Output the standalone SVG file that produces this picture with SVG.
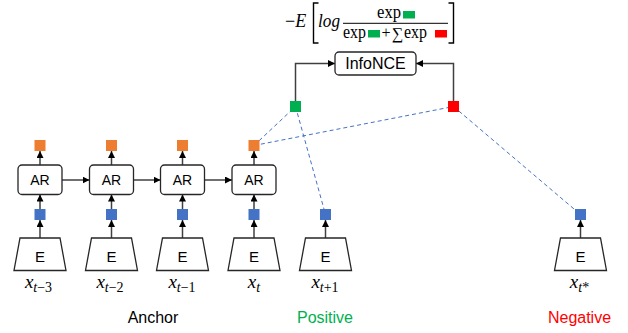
<svg xmlns="http://www.w3.org/2000/svg" width="628" height="333" viewBox="0 0 628 333">
<defs>
<marker id="ah" viewBox="0 0 10 10" refX="10" refY="5" markerWidth="7" markerHeight="7" markerUnits="userSpaceOnUse" orient="auto">
<path d="M0,0 L10,5 L0,10 z" fill="#000"/>
</marker>
<style>
.box{fill:#fff;stroke:#262626;stroke-width:1.3}
.lbl{font-family:"Liberation Sans",Arial,sans-serif;fill:#000;text-anchor:middle}
.ar{font-size:14px}
.e{font-size:15px}
.arrow{stroke:#404040;stroke-width:1.5;fill:none;marker-end:url(#ah)}
.dash{stroke:#4472C4;stroke-width:1;stroke-dasharray:4 3;fill:none}
.blue{fill:#4472C4}
.orange{fill:#ED7D31}
.green{fill:#00B050}
.red{fill:#FF0000}
.math{font-family:"Liberation Serif","DejaVu Serif",serif;fill:#000}
.brk{fill:none;stroke:#000;stroke-width:1.4}
.xl{font-family:"Liberation Serif","DejaVu Serif",serif;font-style:italic;font-size:19px;text-anchor:middle;fill:#000}
.sub{font-size:14px}
.cap{font-family:"Liberation Sans",Arial,sans-serif;font-size:16px;text-anchor:middle}
</style>
</defs>

<!-- formula -->
<g id="formula" class="math">
<text x="285" y="27" font-size="18">−<tspan font-style="italic">E</tspan></text>
<path class="brk" d="M318.5,3 L313.5,3 L313.5,43 L318.5,43"/>
<text x="318" y="27" font-size="18" font-style="italic" textLength="22" lengthAdjust="spacingAndGlyphs">log</text>
<line x1="343" y1="23.3" x2="448" y2="23.3" stroke="#000" stroke-width="1"/>
<text x="377" y="18" font-size="19" textLength="24" lengthAdjust="spacingAndGlyphs">exp</text>
<rect x="403" y="11" width="12" height="7.5" class="green"/>
<text x="343" y="37.5" font-size="19" textLength="23" lengthAdjust="spacingAndGlyphs">exp</text>
<rect x="368" y="30" width="12" height="7.5" class="green"/>
<text x="381.5" y="37.5" font-size="16">+</text>
<text x="392" y="38.5" font-size="16">∑</text>
<text x="404" y="37.5" font-size="19" textLength="23" lengthAdjust="spacingAndGlyphs">exp</text>
<rect x="435" y="30" width="12" height="7.5" class="red"/>
<path class="brk" d="M448.5,3 L453.5,3 L453.5,43 L448.5,43"/>
</g>

<!-- connectors -->
<g id="connectors">
<line class="dash" x1="254" y1="145.5" x2="295.5" y2="106.5"/>
<line class="dash" x1="295.5" y1="106.5" x2="325.5" y2="214.5"/>
<line class="dash" x1="254" y1="145.5" x2="453.5" y2="106.5"/>
<line class="dash" x1="453.5" y1="106.5" x2="580.5" y2="214.5"/>
<polyline class="arrow" points="295.5,101 295.5,63.5 335,63.5"/>
<polyline class="arrow" points="453.5,101 453.5,63.5 416,63.5"/>
<!-- E to blue -->
<line class="arrow" x1="40" y1="238" x2="40" y2="220"/>
<line class="arrow" x1="111.5" y1="238" x2="111.5" y2="220"/>
<line class="arrow" x1="182.5" y1="238" x2="182.5" y2="220"/>
<line class="arrow" x1="254" y1="238" x2="254" y2="220"/>
<line class="arrow" x1="325.5" y1="238" x2="325.5" y2="220"/>
<line class="arrow" x1="580.5" y1="238" x2="580.5" y2="220"/>
<!-- blue to AR -->
<line class="arrow" x1="40" y1="209" x2="40" y2="194.5"/>
<line class="arrow" x1="111.5" y1="209" x2="111.5" y2="194.5"/>
<line class="arrow" x1="182.5" y1="209" x2="182.5" y2="194.5"/>
<line class="arrow" x1="254" y1="209" x2="254" y2="194.5"/>
<!-- AR to orange -->
<line class="arrow" x1="40" y1="165" x2="40" y2="151"/>
<line class="arrow" x1="111.5" y1="165" x2="111.5" y2="151"/>
<line class="arrow" x1="182.5" y1="165" x2="182.5" y2="151"/>
<line class="arrow" x1="254" y1="165" x2="254" y2="151"/>
<!-- AR to AR -->
<line class="arrow" x1="62" y1="180" x2="89.5" y2="180"/>
<line class="arrow" x1="133.5" y1="180" x2="160.5" y2="180"/>
<line class="arrow" x1="204.5" y1="180" x2="232" y2="180"/>
</g>

<!-- InfoNCE -->
<g id="infonce">
<rect class="box" x="335" y="52" width="81" height="23" rx="4"/>
<text class="lbl" x="375.5" y="69" font-size="16">InfoNCE</text>
</g>
<g id="pos-vec"><rect class="green" x="290" y="101" width="11" height="11"/></g>
<g id="neg-vec"><rect class="red" x="448" y="101" width="11" height="11"/></g>

<!-- column 1 -->
<g id="col1">
<rect class="orange" x="34.5" y="140" width="11" height="11"/>
<rect class="box" x="18" y="165" width="44" height="29.5" rx="4"/>
<text class="lbl ar" x="40" y="185">AR</text>
<rect class="blue" x="34.5" y="209" width="11" height="11"/>
<polygon class="box" points="20,238 60,238 66,270.5 14,270.5"/>
<text class="lbl e" x="40" y="261.5">E</text>
<text class="xl" x="38.5" y="288">x<tspan class="sub" dy="4">t<tspan font-style="normal">−3</tspan></tspan></text>
</g>
<!-- column 2 -->
<g id="col2">
<rect class="orange" x="106" y="140" width="11" height="11"/>
<rect class="box" x="89.5" y="165" width="44" height="29.5" rx="4"/>
<text class="lbl ar" x="111.5" y="185">AR</text>
<rect class="blue" x="106" y="209" width="11" height="11"/>
<polygon class="box" points="91.5,238 131.5,238 137.5,270.5 85.5,270.5"/>
<text class="lbl e" x="111.5" y="261.5">E</text>
<text class="xl" x="110" y="288">x<tspan class="sub" dy="4">t<tspan font-style="normal">−2</tspan></tspan></text>
</g>
<!-- column 3 -->
<g id="col3">
<rect class="orange" x="177" y="140" width="11" height="11"/>
<rect class="box" x="160.5" y="165" width="44" height="29.5" rx="4"/>
<text class="lbl ar" x="182.5" y="185">AR</text>
<rect class="blue" x="177" y="209" width="11" height="11"/>
<polygon class="box" points="162.5,238 202.5,238 208.5,270.5 156.5,270.5"/>
<text class="lbl e" x="182.5" y="261.5">E</text>
<text class="xl" x="182" y="288">x<tspan class="sub" dy="4">t<tspan font-style="normal">−1</tspan></tspan></text>
</g>
<!-- column 4 -->
<g id="col4">
<rect class="orange" x="248.5" y="140" width="11" height="11"/>
<rect class="box" x="232" y="165" width="44" height="29.5" rx="4"/>
<text class="lbl ar" x="254" y="185">AR</text>
<rect class="blue" x="248.5" y="209" width="11" height="11"/>
<polygon class="box" points="234,238 274,238 280,270.5 228,270.5"/>
<text class="lbl e" x="254" y="261.5">E</text>
<text class="xl" x="254" y="288">x<tspan class="sub" dy="4">t</tspan></text>
</g>
<!-- column 5 positive -->
<g id="col5">
<rect class="blue" x="320" y="209" width="11" height="11"/>
<polygon class="box" points="305.5,238 345.5,238 351.5,270.5 299.5,270.5"/>
<text class="lbl e" x="325.5" y="261.5">E</text>
<text class="xl" x="325" y="288">x<tspan class="sub" dy="4">t<tspan font-style="normal">+1</tspan></tspan></text>
</g>
<!-- negative column -->
<g id="colneg">
<rect class="blue" x="575" y="209" width="11" height="11"/>
<polygon class="box" points="560.5,238 600.5,238 606.5,270.5 554.5,270.5"/>
<text class="lbl e" x="580.5" y="261.5">E</text>
<text class="xl" x="579.5" y="288">x<tspan class="sub" dy="4">t<tspan font-style="normal">*</tspan></tspan></text>
</g>

<!-- captions -->
<g id="captions">
<text class="cap" x="153" y="323" fill="#000">Anchor</text>
<text class="cap" x="325" y="323" fill="#00B050">Positive</text>
<text class="cap" x="579.5" y="323" fill="#FF0000">Negative</text>
</g>
</svg>
